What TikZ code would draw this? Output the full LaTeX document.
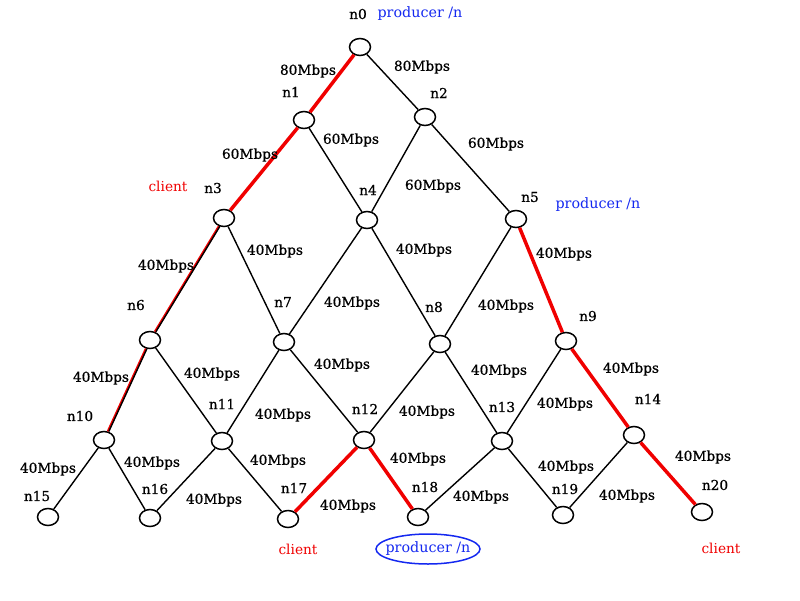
\documentclass[tikz,border=0pt]{standalone}
\usepackage{fontspec}
\setmainfont{DejaVu Serif}
\newfontfamily\lblfont{DejaVu Serif}[FakeBold=0.7]
\usetikzlibrary{shapes.geometric}
\definecolor{pblue}{RGB}{20,40,240}
\definecolor{cred}{RGB}{240,0,0}
\tikzset{
  vtx/.style={ellipse,draw=black,line width=1.5pt,minimum width=21pt,minimum height=17pt,inner sep=0pt,fill=white},
  lbl/.style={font=\lblfont\fontsize{13.7}{15}\selectfont,inner sep=0pt,text=black},
  prod/.style={font=\fontsize{14.3}{16}\selectfont,inner sep=0pt,text=pblue},
  cli/.style={font=\fontsize{13.7}{15}\selectfont,inner sep=0pt,text=cred},
  ed/.style={line width=1.4pt,black},
  red/.style={line width=3.5pt,cred},
}
\begin{document}
\begin{tikzpicture}[x=1pt,y=-1pt]
\useasboundingbox (0,0) rectangle (800,600);
% vertices
\node[vtx] (n0) at (360,47) {};
\node[vtx] (n1) at (304,120) {};
\node[vtx] (n2) at (425,117) {};
\node[vtx] (n3) at (224,218) {};
\node[vtx] (n4) at (367,220) {};
\node[vtx] (n5) at (516,219) {};
\node[vtx] (n6) at (150,340) {};
\node[vtx] (n7) at (284,342) {};
\node[vtx] (n8) at (440,344) {};
\node[vtx] (n9) at (566,341) {};
\node[vtx] (n10) at (104,440) {};
\node[vtx] (n11) at (222,441) {};
\node[vtx] (n12) at (364,440) {};
\node[vtx] (n13) at (502,441) {};
\node[vtx] (n14) at (634,435) {};
\node[vtx] (n15) at (48,517) {};
\node[vtx] (n16) at (150,518) {};
\node[vtx] (n17) at (288,519) {};
\node[vtx] (n18) at (418,517) {};
\node[vtx] (n19) at (563,515) {};
\node[vtx] (n20) at (702,512) {};
% edges
\draw[red] (n0) -- (n1);
\draw[ed] (n0) -- (n2);
\draw[red] (n1) -- (n3);
\draw[ed] (n1) -- (n4);
\draw[ed] (n2) -- (n4);
\draw[ed] (n2) -- (n5);
\draw[line width=2.4pt,cred] (n3) -- (n6);
\draw[ed,transform canvas={xshift=0.9pt}] (n3) -- (n6);
\draw[ed] (n3) -- (n7);
\draw[ed] (n4) -- (n7);
\draw[ed] (n4) -- (n8);
\draw[ed] (n5) -- (n8);
\draw[red] (n5) -- (n9);
\draw[line width=2.4pt,cred] (n6) -- (n10);
\draw[ed,transform canvas={xshift=0.9pt}] (n6) -- (n10);
\draw[ed] (n6) -- (n11);
\draw[ed] (n7) -- (n11);
\draw[ed] (n7) -- (n12);
\draw[ed] (n8) -- (n12);
\draw[ed] (n8) -- (n13);
\draw[ed] (n9) -- (n13);
\draw[red] (n9) -- (n14);
\draw[ed] (n10) -- (n15);
\draw[ed] (n10) -- (n16);
\draw[ed] (n11) -- (n16);
\draw[ed] (n11) -- (n17);
\draw[red] (n12) -- (n17);
\draw[red] (n12) -- (n18);
\draw[ed] (n13) -- (n18);
\draw[ed] (n13) -- (n19);
\draw[ed] (n14) -- (n19);
\draw[red] (n14) -- (n20);
% vertex names
\node[lbl] (t0) at (358,14) {n0};
\node[lbl] (t1) at (291,92) {n1};
\node[lbl] (t2) at (439,93) {n2};
\node[lbl] (t3) at (213,188) {n3};
\node[lbl] (t4) at (368,190) {n4};
\node[lbl] (t5) at (530,197) {n5};
\node[lbl] (t6) at (136,305) {n6};
\node[lbl] (t7) at (283,302) {n7};
\node[lbl] (t8) at (434,307) {n8};
\node[lbl] (t9) at (588,316) {n9};
\node[lbl] (t10) at (80,416) {n10};
\node[lbl] (t11) at (222,404) {n11};
\node[lbl] (t12) at (365,409) {n12};
\node[lbl] (t13) at (502,407) {n13};
\node[lbl] (t14) at (648,399) {n14};
\node[lbl] (t15) at (37,496) {n15};
\node[lbl] (t16) at (155,489) {n16};
\node[lbl] (t17) at (294,488) {n17};
\node[lbl] (t18) at (425,487) {n18};
\node[lbl] (t19) at (565,489) {n19};
\node[lbl] (t20) at (715,485) {n20};
% bandwidth labels
\node[lbl] (b1) at (308,71) {80Mbps};
\node[lbl] (b2) at (422,67) {80Mbps};
\node[lbl] (b3) at (250,155) {60Mbps};
\node[lbl] (b4) at (351,140) {60Mbps};
\node[lbl] (b5) at (433,186) {60Mbps};
\node[lbl] (b6) at (496,144) {60Mbps};
\node[lbl] (b7) at (166,266) {40Mbps};
\node[lbl] (b8) at (275,251) {40Mbps};
\node[lbl] (b9) at (424,250) {40Mbps};
\node[lbl] (b10) at (564,254) {40Mbps};
\node[lbl] (b11) at (352,303) {40Mbps};
\node[lbl] (b12) at (506,306) {40Mbps};
\node[lbl] (b13) at (101,378) {40Mbps};
\node[lbl] (b14) at (212,374) {40Mbps};
\node[lbl] (b15) at (342,365) {40Mbps};
\node[lbl] (b16) at (499,371) {40Mbps};
\node[lbl] (b17) at (631,369) {40Mbps};
\node[lbl] (b18) at (283,415) {40Mbps};
\node[lbl] (b19) at (427,412) {40Mbps};
\node[lbl] (b20) at (565,404) {40Mbps};
\node[lbl] (b21) at (48,469) {40Mbps};
\node[lbl] (b22) at (152,463) {40Mbps};
\node[lbl] (b23) at (278,461) {40Mbps};
\node[lbl] (b24) at (418,459) {40Mbps};
\node[lbl] (b25) at (566,467) {40Mbps};
\node[lbl] (b26) at (703,457) {40Mbps};
\node[lbl] (b27) at (214,500) {40Mbps};
\node[lbl] (b28) at (348,506) {40Mbps};
\node[lbl] (b29) at (481,497) {40Mbps};
\node[lbl] (b30) at (627,496) {40Mbps};
% roles
\node[prod] (p0) at (420,14) {producer /n};
\node[prod] (p5) at (598,205) {producer /n};
\node[prod] (p18) at (428,549) {producer /n};
\draw[pblue,line width=1.5pt] (p18.center) ellipse [x radius=52, y radius=15];
\node[cli] (c3) at (168,186) {client};
\node[cli] (c17) at (298,549) {client};
\node[cli] (c20) at (721,548) {client};
\end{tikzpicture}
\end{document}
